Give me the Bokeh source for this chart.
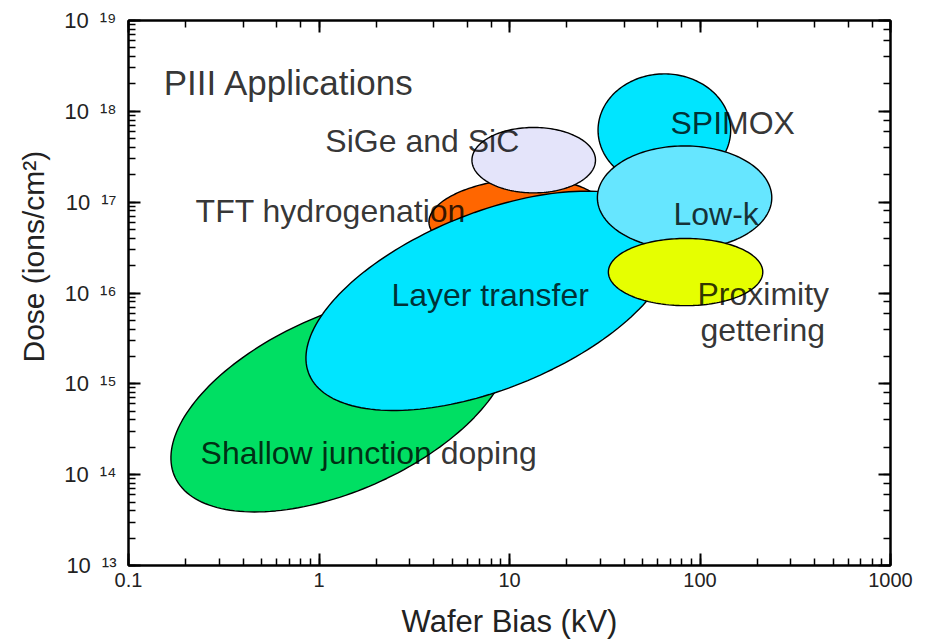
import numpy as np
from bokeh.plotting import figure
from bokeh.models import LogAxis, CustomJSTickFormatter, ColumnDataSource, Title
from bokeh.core.properties import value
from bokeh.embed import file_html
from bokeh.resources import INLINE

# Application regions: centre (wafer bias in kV, dose in ions/cm^2),
# half-lengths of the long / short axes (in dose decades) and tilt (deg)
apps = ["Shallow junction doping", "TFT hydrogenation", "SiGe and SiC",
        "Layer transfer", "SPIMOX", "Low-k", "Proximity gettering"]
bias_kv = [1.3, 10.8, 13.4, 7.9, 65.0, 83.0, 84.0]
dose = [6.2e14, 7.1e16, 2.9e17, 8.2e15, 6.2e17, 1.12e17, 1.7e16]
half_long = [2.00, 0.96, 0.68, 2.15, 0.73, 0.96, 0.85]
half_short = [0.97, 0.40, 0.36, 0.97, 0.62, 0.57, 0.37]
tilt_deg = [24, 5, 0, 22, 0, 0, 0]
fills = ["#00DF63", "#FF6600", "#E4E4FA", "#00E5FF", "#00E5FF", "#66E6FF", "#E6FF00"]

# Text annotations (left edge, baseline)
label_text = ["PIII Applications", "SiGe and SiC", "TFT hydrogenation",
              "Layer transfer", "Shallow junction doping", "SPIMOX", "Low-k",
              "Proximity", "gettering"]
label_bias = [0.153, 1.08, 0.225, 2.40, 0.239, 70.0, 72.6, 97.0, 100.6]
label_dose = [2.1e18, 4.66e17, 7.9e16, 9.6e15, 1.75e14, 7.35e17, 7.5e16, 9.85e15, 3.96e15]
label_size = ["35px"] + ["32px"] * 8

X_RANGE = (0.1, 1000)
Y_RANGE = (1e13, 1e19)

W, H = 930, 642
B_LEFT, B_RIGHT, B_TOP, B_BOTTOM = 128, 40, 20, 77
FRAME_W, FRAME_H = W - B_LEFT - B_RIGHT, H - B_TOP - B_BOTTOM
x_decades = np.log10(X_RANGE[1] / X_RANGE[0])
y_decades = np.log10(Y_RANGE[1] / Y_RANGE[0])
# ratio of on-screen length of one bias decade to one dose decade
aspect = (FRAME_W / x_decades) / (FRAME_H / y_decades)


def region_outline(b, d, a, s, tilt, n=180):
    t = np.linspace(0, 2 * np.pi, n)
    th = np.radians(tilt)
    u, v = a * np.cos(t), s * np.sin(t)
    du = u * np.cos(th) - v * np.sin(th)
    dv = u * np.sin(th) + v * np.cos(th)
    return list(10 ** (np.log10(b) + du / aspect)), list(10 ** (np.log10(d) + dv))


xs, ys = [], []
for b, d, a, s, t in zip(bias_kv, dose, half_long, half_short, tilt_deg):
    px, py = region_outline(b, d, a, s, t)
    xs.append(px)
    ys.append(py)

regions = ColumnDataSource(dict(xs=xs, ys=ys, fill=fills, name=apps))
labels = ColumnDataSource(dict(x=label_bias, y=label_dose, text=label_text, size=label_size))

p = figure(width=W, height=H, x_axis_type="log", y_axis_type="log",
           x_range=X_RANGE, y_range=Y_RANGE, output_backend="svg",
           toolbar_location=None, min_border_left=B_LEFT, min_border_right=B_RIGHT,
           min_border_top=B_TOP, min_border_bottom=B_BOTTOM)
p.grid.visible = False
p.outline_line_color = "black"
p.outline_line_width = 2
p.background_fill_color = "white"
p.border_fill_color = "white"

p.patches("xs", "ys", source=regions, fill_color="fill", line_color="black",
          line_width=1.4)

p.text("x", "y", text="text", source=labels, text_font=value("Liberation Sans"),
       text_font_size="size", text_align="left", text_baseline="alphabetic",
       text_color="black", text_alpha=0.8)

sup_fmt = CustomJSTickFormatter(code="""
    const sup = {"0":"\u2070","1":"\u00b9","2":"\u00b2","3":"\u00b3","4":"\u2074",
                 "5":"\u2075","6":"\u2076","7":"\u2077","8":"\u2078","9":"\u2079","-":"\u207b"};
    const e = Math.round(Math.log10(tick));
    return "10\u2002" + String(e).split("").map(c => sup[c]).join("");
""")
plain_fmt = CustomJSTickFormatter(code="""
    return tick < 1 ? tick.toFixed(1) : tick.toFixed(0);
""")


def style_axis(ax):
    ax.axis_line_width = 2
    ax.axis_line_color = "black"
    ax.major_tick_in = 12
    ax.major_tick_out = 0
    ax.minor_tick_in = 7
    ax.minor_tick_out = 0
    ax.major_tick_line_width = 2
    ax.minor_tick_line_width = 1.5
    ax.major_label_text_font = "Liberation Sans"
    ax.major_label_text_color = "#222222"


xa = p.xaxis[0]
style_axis(xa)
xa.formatter = plain_fmt
xa.major_label_text_font_size = "20px"
xa.major_label_standoff = 7
xa.axis_label = "Wafer Bias (kV)"
xa.axis_label_text_font = "Liberation Sans"
xa.axis_label_text_font_size = "31px"
xa.axis_label_text_font_style = "normal"
xa.axis_label_text_color = "#222222"
xa.axis_label_standoff = 14

ya = p.yaxis[0]
style_axis(ya)
ya.formatter = sup_fmt
ya.major_label_text_font_size = "22px"
ya.major_label_standoff = 12

# unlabeled mirror axes on the top and right sides of the frame
for loc in ("above", "right"):
    ax = LogAxis()
    style_axis(ax)
    ax.major_label_text_font_size = "1px"
    ax.major_label_text_color = None
    ax.major_label_standoff = 0
    p.add_layout(ax, loc)

# vertical axis title, starting ~200 px above the bottom of the frame
p.add_layout(Title(text="Dose (ions/cm\u00b2)", align="left", offset=203,
                   standoff=24, text_font="Liberation Sans", text_font_size="30px",
                   text_font_style="normal", text_color="#222222"), "left")

open("out.html", "w").write(file_html(p, INLINE))
